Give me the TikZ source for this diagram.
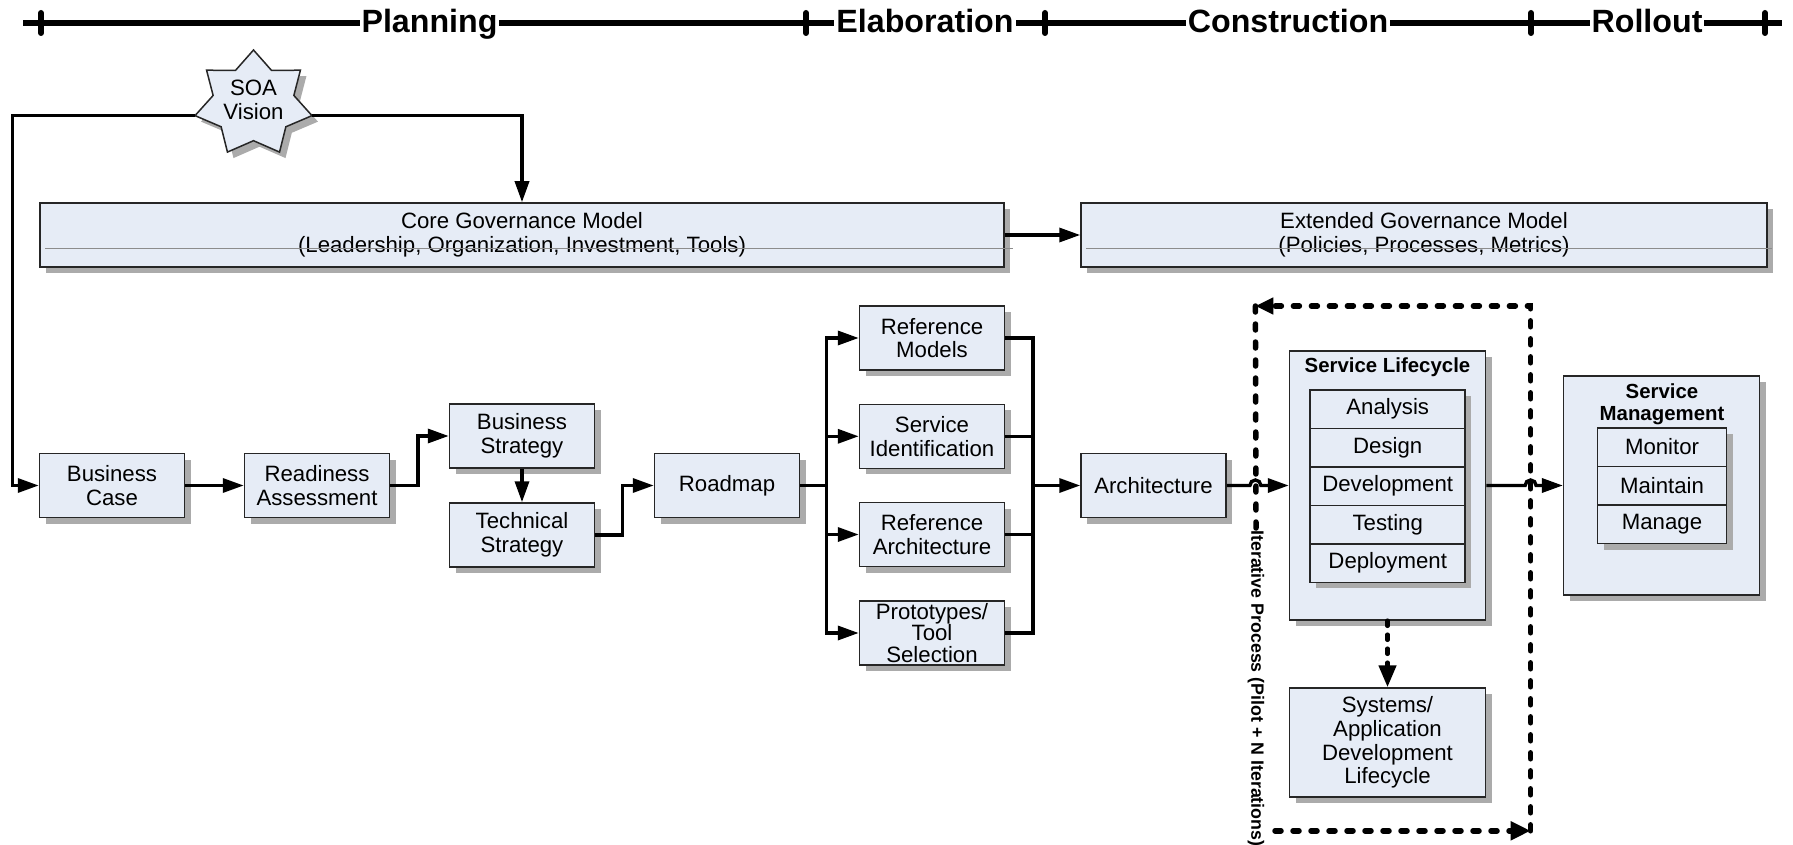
\documentclass[tikz,border=0pt]{standalone}
\usepackage{fontspec}
\setmainfont{Liberation Sans}
\usetikzlibrary{arrows.meta,shapes.geometric,shadows,positioning}
\definecolor{boxfill}{HTML}{E6ECF6}
\tikzset{
  box/.style={draw=black!85, line width=0.75pt, fill=boxfill, align=center, inner sep=2pt,
    minimum width=72.5pt, minimum height=32pt, font=\fontsize{11.1}{11.8}\selectfont,
    drop shadow={shadow xshift=3pt, shadow yshift=-3pt, fill=black!33, opacity=1}},
  row/.style={box, minimum height=19.25pt, inner sep=0pt},
  soastar/.style={draw=black!85, line width=0.75pt, fill=boxfill, line join=miter,
    drop shadow={shadow xshift=3pt, shadow yshift=-3pt, fill=black!33, opacity=1}},
  conn/.style={line width=1.7pt, -{Triangle[length=10.5pt,width=7pt]}},
  wire/.style={line width=1.7pt},
  loopline/.style={line width=2.75pt, line cap=round, dash pattern=on 3pt off 6pt},
  phase/.style={font=\fontsize{16.1}{18}\selectfont\bfseries, fill=white, inner xsep=1pt, inner ysep=0pt, anchor=base},
  title/.style={font=\fontsize{10.2}{10.75}\selectfont\bfseries, align=center, inner sep=0pt},
  strike/.style={black!45, line width=0.4pt}
}
\begin{document}
\begin{tikzpicture}[x=0.5pt,y=-0.5pt]
\useasboundingbox (0,0) rectangle (1793,845);
\draw[line width=3pt] (23,23) -- (1782,23); % edit here for the time axis
\foreach \x in {41,806,1045,1531,1765} % edit here for the ticks
\draw[shift={(\x,23)}, line width=3pt, line cap=round] (0pt,5pt) -- (0pt,-5pt);
\node[phase] (plan) at (429.5,33) {Planning};
\node[phase] (elab) at (925,33) {Elaboration};
\node[phase] (cons) at (1288,33) {Construction};
\node[phase] (roll) at (1647,33) {Rollout};

% governance
\draw[soastar, shift={(253.5,103.7)}] (-90:60 and 53.7)
  \foreach \k in {1,...,13} {-- ({-90+\k*360/14}:{60-18.6*isodd(\k)} and {53.7-16.7*isodd(\k)})} -- cycle;
\node[align=center, font=\fontsize{11.1}{11.8}\selectfont] (soa) at (253.5,100) {SOA\\Vision};
\coordinate (soal) at (195,115.6);
\coordinate (soar) at (312,115.6);
\node[box, minimum width=482pt] (core) at (522,235) {Core Governance Model\\(Leadership, Organization, Investment, Tools)};
\node[box, minimum width=343pt] (ext) at (1424,235) {Extended Governance Model\\(Policies, Processes, Metrics)};
\draw[strike] ([shift={(3pt,-6.5pt)}]core.west) -- ([shift={(4pt,-6.5pt)}]core.east);
\draw[strike] ([shift={(3pt,-6.5pt)}]ext.west) -- ([shift={(2pt,-6.5pt)}]ext.east);

% planning boxes
\node[box] (bc) at (112,485.5) {Business\\Case};
\node[box] (ra) at (317,485.5) {Readiness\\Assessment};
\node[box] (bs) at (522,436) {Business\\Strategy};
\node[box] (ts) at (522,535) {Technical\\Strategy};
\node[box] (road) at (727,485.5) {Roadmap};

% elaboration boxes
\node[box] (rm) at (932,338) {Reference\\Models};
\node[box] (si) at (932,436.3) {Service\\Identification};
\node[box] (rarch) at (932,534.5) {Reference\\Architecture};
\node[box, inner ysep=0pt, font=\fontsize{11.1}{10.7}\selectfont] (proto) at (932,633) {Prototypes/\\Tool\\Selection};
\node[box] (arch) at (1153.5,485.5) {Architecture};

% construction
\node[box, minimum width=98pt, minimum height=134.5pt] (sl) at (1387.5,485.5) {};
\node[title] (sltitle) at (1387.5,367) {Service Lifecycle};
\foreach \t [count=\i] in {Analysis,Design,Development,Testing,Deployment}
\node[row, minimum width=77.5pt] (slrow\i) at (1387.7,370.5+38.5*\i) {\t};
\node[box, minimum width=98pt, minimum height=54.5pt] (sys) at (1387.5,742.5) {Systems/\\Application\\Development\\Lifecycle};

% rollout
\node[box, minimum width=98pt, minimum height=109.5pt] (sm) at (1661.6,485.5) {};
\node[title] (smtitle) at (1662,404.3) {Service\\Management};
\foreach \t [count=\i] in {Monitor,Maintain,Manage}
\node[row, minimum width=64.5pt] (smrow\i) at (1662,408.3+38.7*\i) {\t};

% connectors
\coordinate (rail) at (12.6,0);
\draw[conn] (soal) -| (rail |- bc.west) -- (bc.west);
\draw[conn] (soar) -| (core.north);
\draw[conn] (core.east) -- (ext.west);
\draw[conn] (bc.east) -- (ra.west);
\draw[conn] (ra.east) -- ++(27.7,0) |- (bs.west);
\draw[conn] (bs.south) -- (ts.north);
\draw[conn] (ts.east) -- ++(27.2,0) |- (road.west);
\coordinate (split) at (826.4,485.5);
\coordinate (merge) at (1032.8,485.5);
\draw[wire] (road.east) -- (split);
\foreach \n in {rm,si,rarch,proto} % edit here for the branches
{\draw[conn] (split) |- (\n.west);
\draw[wire] (\n.east) -| (merge);}
\draw[conn] (merge) -- (arch.west);

% iterative loop
\coordinate (lt) at (1255.4,306);
\coordinate (rt) at (1530.6,306);
\coordinate (rb) at (1530.6,830.8);
\coordinate (lb) at (1275,830.8);
\node[rotate=-90, anchor=west, inner sep=1pt, font=\fontsize{8.9}{10}\selectfont\bfseries] (iter) at (1256,528) {Iterative Process (Pilot + N Iterations)};
\draw[loopline, -{Triangle[length=9pt,width=8pt]}] (rb) -- (rt) -- (lt);
\draw[loopline] (lt) -- (iter.west);
\draw[loopline, -{Triangle[length=10pt,width=9pt]}] (lb) -- (rb);
\coordinate (hopa) at (1249.9,485.5);
\coordinate (hopb) at (1525.1,485.5);
\draw[conn] (arch.east) -- (hopa) arc[start angle=180, end angle=0, radius=2.75pt] -- (sl.west);
\draw[conn] (sl.east) -- (hopb) arc[start angle=180, end angle=0, radius=2.75pt] -- (sm.west);
\draw[line width=2.3pt, line cap=round, dash pattern=on 2.5pt off 4.5pt, -{Triangle[length=11pt,width=8.5pt]}] (sl.south) -- (sys.north);
\end{tikzpicture}
\end{document}
